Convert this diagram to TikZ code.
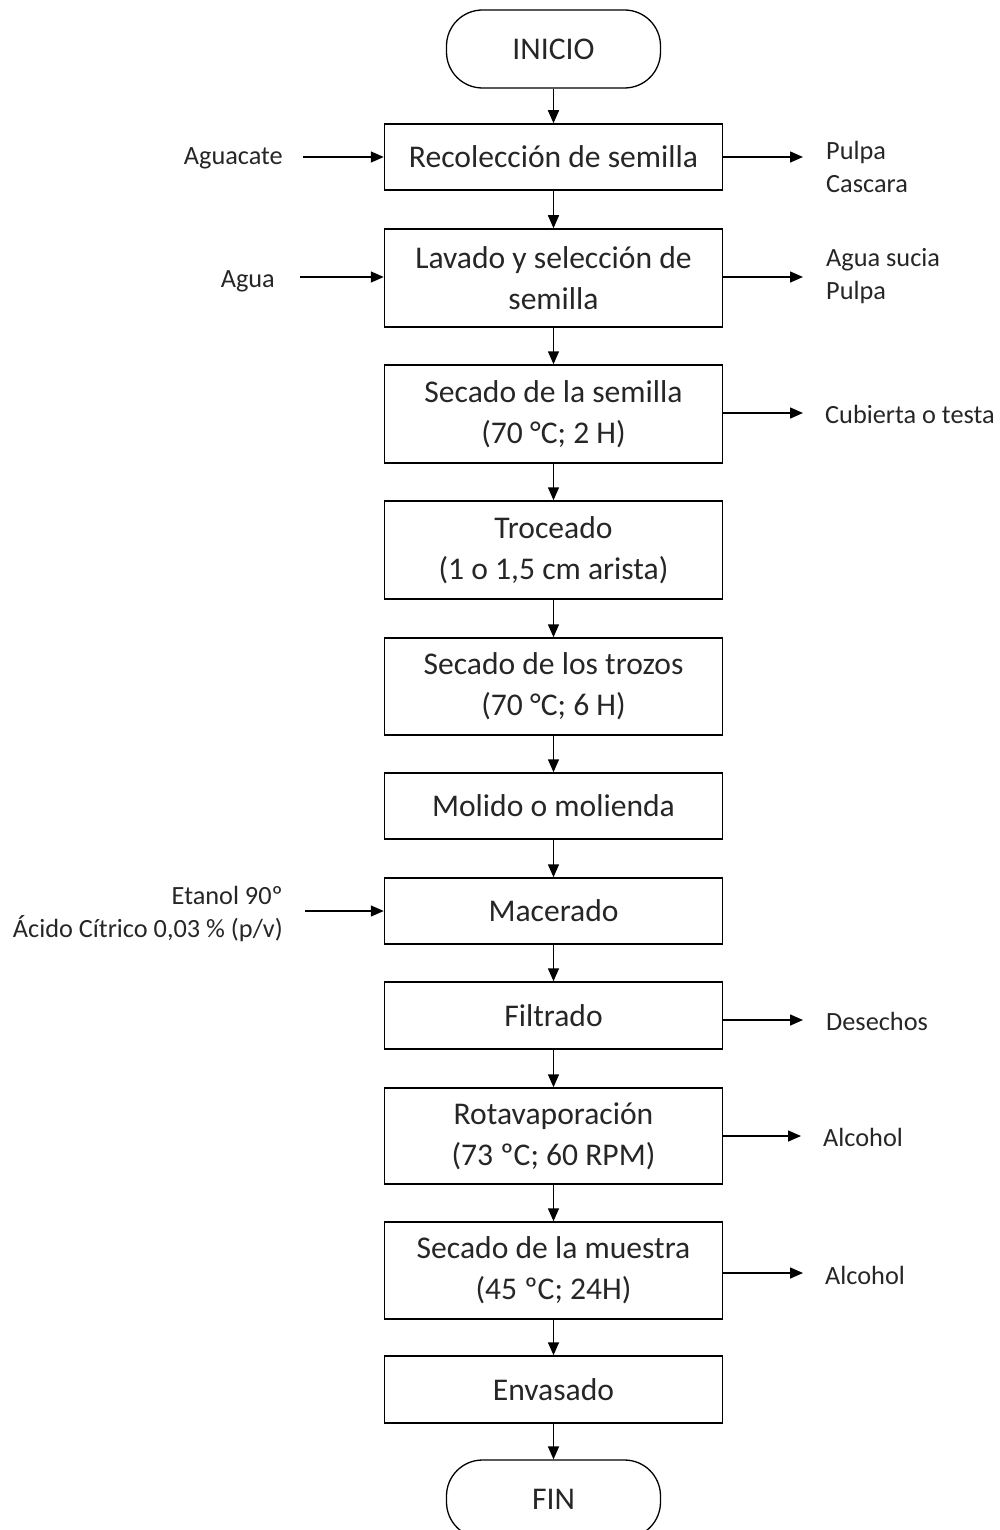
\documentclass[tikz,border=0pt]{standalone}
\usepackage{fontspec}
\setmainfont{Carlito}
\usetikzlibrary{arrows.meta}

\begin{document}
\begin{tikzpicture}[
    x=1pt, y=-1pt,
    box/.style={draw, line width=1.5pt, minimum width=338pt, inner sep=2pt, align=center, text=black!85, font=\fontsize{31.6}{41}\selectfont},
    term/.style={draw, line width=1.3pt, rounded corners=36pt, minimum width=214pt, minimum height=78pt, text=black!85, font=\fontsize{31.6}{41}\selectfont},
    lbl/.style={inner sep=0pt, text=black!85, font=\fontsize{26.3}{33}\selectfont},
    arr/.style={line width=1.5pt, -{Triangle[length=13pt, width=11pt]}}
  ]
  \useasboundingbox (0,0) rectangle (999,1530);

  % main line
  \node[term] (inicio) at (553.5,49) {INICIO};
  \node[box, minimum height=66pt] (b1) at (553.5,157) {Recolección de semilla};
  \node[box, minimum height=98pt] (b2) at (553.5,278) {Lavado y selección de\\semilla};
  \node[box, minimum height=98pt] (b3) at (553.5,414) {Secado de la semilla\\(70 °C; 2 H)};
  \node[box, minimum height=98pt] (b4) at (553.5,550) {Troceado\\(1 o 1,5 cm arista)};
  \node[box, minimum height=97pt] (b5) at (553.5,686.5) {Secado de los trozos\\(70 °C; 6 H)};
  \node[box, minimum height=66pt] (b6) at (553.5,806) {Molido o molienda};
  \node[box, minimum height=66pt] (b7) at (553.5,911) {Macerado};
  \node[box, minimum height=67pt] (b8) at (553.5,1015.5) {Filtrado};
  \node[box, minimum height=96pt] (b9) at (553.5,1136) {Rotavaporación\\(73 ºC; 60 RPM)};
  \node[box, minimum height=97pt] (b10) at (553.5,1270.5) {Secado de la muestra\\(45 ºC; 24H)};
  \node[box, minimum height=67pt] (b11) at (553.5,1389.5) {Envasado};
  \node[term] (fin) at (553.5,1499) {FIN};

  \draw[arr] (inicio) -- (b1);
  \draw[arr] (b1) -- (b2);
  \draw[arr] (b2) -- (b3);
  \draw[arr] (b3) -- (b4);
  \draw[arr] (b4) -- (b5);
  \draw[arr] (b5) -- (b6);
  \draw[arr] (b6) -- (b7);
  \draw[arr] (b7) -- (b8);
  \draw[arr] (b8) -- (b9);
  \draw[arr] (b9) -- (b10);
  \draw[arr] (b10) -- (b11);
  \draw[arr] (b11) -- (fin);

  % inputs
  \node[lbl, anchor=east] (aguacate) at (283,158) {Aguacate};
  \node[lbl, anchor=east] (agua) at (275,281) {Agua};
  \node[lbl, anchor=east, align=right] (etanol) at (283,913.5) {Etanol 90º\\Ácido Cítrico 0,03 \% (p/v)};
  \coordinate (i1) at (303,157);
  \coordinate (i2) at (300,277);
  \coordinate (i7) at (305,911);
  \draw[arr] (i1) -- (b1);
  \draw[arr] (i2) -- (b2.west |- i2);
  \draw[arr] (i7) -- (b7);

  % outputs
  \node[lbl, anchor=west, align=left] (pulpa) at (826,166.5) {Pulpa\\Cascara};
  \node[lbl, anchor=west, align=left] (sucia) at (826,276.5) {Agua sucia\\Pulpa};
  \node[lbl, anchor=west] (testa) at (825,414) {Cubierta o testa};
  \node[lbl, anchor=west] (desechos) at (826,1021) {Desechos};
  \node[lbl, anchor=west] (alcohol1) at (823,1137) {Alcohol};
  \node[lbl, anchor=west] (alcohol2) at (825,1275) {Alcohol};
  \coordinate (o1) at (803,157);
  \coordinate (o2) at (803,277);
  \coordinate (o3) at (803,413);
  \coordinate (o8) at (803,1020);
  \coordinate (o9) at (801,1136);
  \coordinate (o10) at (803,1273);
  \draw[arr] (b1) -- (o1);
  \draw[arr] (b2.east |- o2) -- (o2);
  \draw[arr] (b3.east |- o3) -- (o3);
  \draw[arr] (b8.east |- o8) -- (o8);
  \draw[arr] (b9.east |- o9) -- (o9);
  \draw[arr] (b10.east |- o10) -- (o10);
\end{tikzpicture}
\end{document}
